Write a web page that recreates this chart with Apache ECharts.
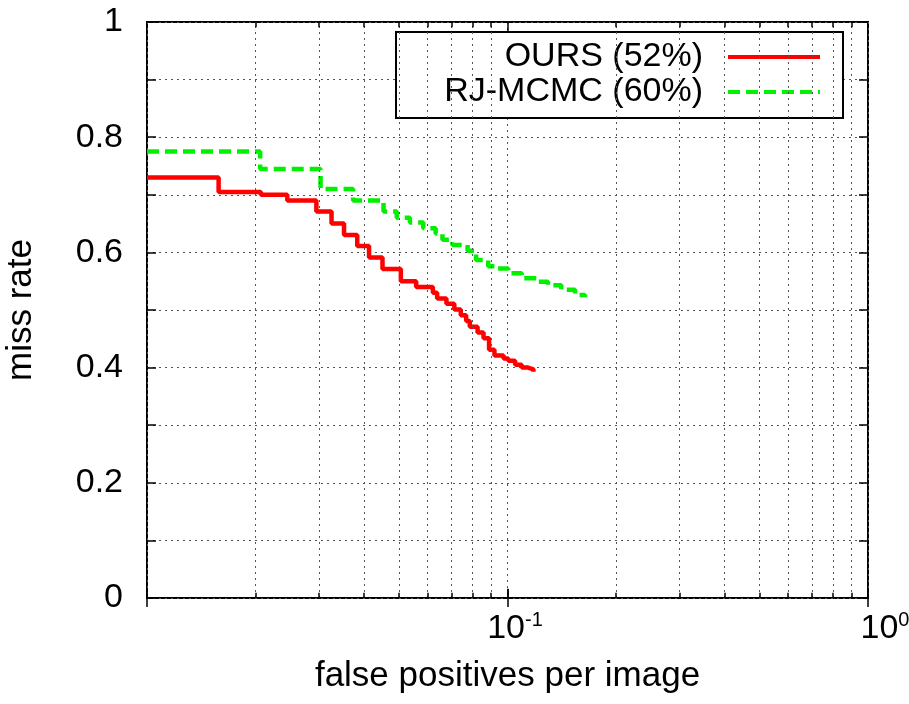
<!DOCTYPE html>
<html>
<head>
<meta charset="utf-8">
<script src="https://cdn.jsdelivr.net/npm/echarts@6/dist/echarts.min.js"></script>
<style>
html,body{margin:0;padding:0;background:#fff;}
#chart{width:909px;height:704px;}
</style>
</head>
<body>
<div id="chart"></div>
<script>
// ---- data (false positives per image, miss rate) ----
const seriesNames = ['OURS (52%)', 'RJ-MCMC (60%)'];
const oursFppi = [0.01, 0.0158, 0.0207, 0.0245, 0.0295, 0.0325, 0.0352, 0.0383, 0.0413, 0.045, 0.0506, 0.0558, 0.0621, 0.0638, 0.0677, 0.0712, 0.0742, 0.0768, 0.0786, 0.0826, 0.0858, 0.0889, 0.0920, 0.0975, 0.1005, 0.105, 0.1095, 0.114, 0.118];
const oursMiss = [0.730, 0.705, 0.700, 0.690, 0.671, 0.650, 0.630, 0.611, 0.591, 0.571, 0.550, 0.540, 0.530, 0.520, 0.511, 0.501, 0.491, 0.481, 0.471, 0.461, 0.451, 0.431, 0.421, 0.416, 0.412, 0.405, 0.400, 0.397, 0.393];
const rjFppi = [0.01, 0.0206, 0.0303, 0.0373, 0.0453, 0.0493, 0.0536, 0.0584, 0.0632, 0.0660, 0.0703, 0.0775, 0.0818, 0.0884, 0.0930, 0.1005, 0.1095, 0.121, 0.1295, 0.141, 0.154, 0.164];
const rjMiss = [0.775, 0.745, 0.710, 0.690, 0.671, 0.660, 0.652, 0.642, 0.633, 0.622, 0.613, 0.603, 0.587, 0.576, 0.572, 0.564, 0.555, 0.549, 0.543, 0.535, 0.526, 0.522];
// axis ticks
const xMinorTicks = [0.02, 0.03, 0.04, 0.05, 0.06, 0.07, 0.08, 0.09, 0.2, 0.3, 0.4, 0.5, 0.6, 0.7, 0.8, 0.9];
const xMajorTicks = [0.1];

const FONT = '"Liberation Sans", Arial, Helvetica, sans-serif';
const zip = (a, b) => a.map((v, i) => [v, b[i]]);

const gridDot = {color: '#555', width: 1, type: [2, 4]};

const minorGridLines = xMinorTicks.map(v => ({xAxis: v}));
const tickSegs = [];
xMinorTicks.forEach(v => {
  tickSegs.push([{coord: [v, 0]}, {coord: [v, 0.009]}]);
  tickSegs.push([{coord: [v, 1]}, {coord: [v, 0.991]}]);
});
xMajorTicks.forEach(v => {
  tickSegs.push([{coord: [v, 0]}, {coord: [v, 0.016]}]);
  tickSegs.push([{coord: [v, 1]}, {coord: [v, 0.984]}]);
});

const chart = echarts.init(document.getElementById('chart'), null, {renderer: 'canvas'});
const xLabelRich = {
  b: {fontSize: 34, fontFamily: FONT, color: '#000', verticalAlign: 'bottom', lineHeight: 36},
  s: {fontSize: 20, fontFamily: FONT, color: '#000', verticalAlign: 'top', lineHeight: 36, padding: [0, 0, 14, 0]},
  p1: {width: 15, lineHeight: 36},
  p2: {width: 34, lineHeight: 36}
};
chart.setOption({
  animation: false,
  backgroundColor: '#fff',
  textStyle: {fontFamily: FONT},
  grid: {left: 147, right: 41, top: 22, bottom: 106, show: true, borderColor: '#000', borderWidth: 2,
    backgroundColor: 'transparent', containLabel: false, outerBoundsMode: 'none'},
  legend: {
    data: seriesNames,
    orient: 'vertical',
    right: 66,
    top: 32,
    align: 'right',
    itemWidth: 92,
    itemHeight: 20,
    itemGap: 1,
    padding: [8, 21, 9, 10],
    backgroundColor: '#fff',
    borderColor: '#000',
    borderWidth: 2,
    borderRadius: 0,
    selectedMode: false,
    itemStyle: {opacity: 0},
    lineStyle: {width: 4},
    textStyle: {fontSize: 34, fontFamily: FONT, color: '#000', width: 297, align: 'right', lineHeight: 34, padding: [0, 20, 0, 0]}
  },
  xAxis: [{
    type: 'log', logBase: 10, min: 0.01, max: 1, position: 'bottom',
    name: 'false positives per image', nameLocation: 'middle', nameGap: 61,
    nameTextStyle: {fontSize: 35, fontFamily: FONT, color: '#000'},
    axisLine: {show: false},
    axisTick: {show: true, inside: true, length: 9, lineStyle: {color: '#000', width: 1.5}},
    axisLabel: {
      margin: 12, color: '#000',
      formatter: function (v) {
        if (Math.abs(v - 0.1) < 1e-9) return '{p1|}{b|10}{s|-1}';
        if (Math.abs(v - 1) < 1e-9) return '{p2|}{b|10}{s|0}';
        return '';
      },
      rich: xLabelRich
    },
    splitLine: {show: true, lineStyle: gridDot}
  }, {
    type: 'log', logBase: 10, min: 0.01, max: 1, position: 'top',
    axisLine: {show: false},
    axisTick: {show: true, inside: true, length: 9, lineStyle: {color: '#000', width: 1.5}},
    axisLabel: {show: false},
    splitLine: {show: false}
  }],
  yAxis: [{
    type: 'value', min: 0, max: 1, interval: 0.2, position: 'left',
    name: 'miss rate', nameLocation: 'middle', nameGap: 108, nameRotate: 90,
    nameTextStyle: {fontSize: 35, fontFamily: FONT, color: '#000'},
    axisLine: {show: false},
    axisTick: {show: true, inside: true, length: 9, lineStyle: {color: '#000', width: 1.5}},
    minorTick: {show: true, splitNumber: 2, length: 9, lineStyle: {color: '#000', width: 1.5}},
    axisLabel: {margin: 24, fontSize: 34, fontFamily: FONT, color: '#000'},
    splitLine: {show: true, lineStyle: gridDot},
    minorSplitLine: {show: true, lineStyle: gridDot}
  }, {
    type: 'value', min: 0, max: 1, interval: 0.2, position: 'right',
    axisLine: {show: false},
    axisTick: {show: true, inside: true, length: 9, lineStyle: {color: '#000', width: 1.5}},
    minorTick: {show: true, splitNumber: 2, length: 9, lineStyle: {color: '#000', width: 1.5}},
    axisLabel: {show: false},
    splitLine: {show: false}
  }],
  series: [{
    name: '__grid', type: 'line', data: [], z: 1, silent: true,
    markLine: {silent: true, symbol: 'none', label: {show: false}, animation: false,
      lineStyle: gridDot, emphasis: {disabled: true}, data: minorGridLines}
  }, {
    name: '__ticks', type: 'line', data: [], z: 1, silent: true,
    markLine: {silent: true, symbol: 'none', label: {show: false}, animation: false,
      lineStyle: {color: '#000', width: 1.5, type: 'solid'}, emphasis: {disabled: true}, data: tickSegs}
  }, {
    name: seriesNames[0], type: 'line', step: 'end', symbol: 'none', z: 3,
    data: zip(oursFppi, oursMiss),
    lineStyle: {color: '#ff0000', width: 4.5},
    itemStyle: {color: '#ff0000'}
  }, {
    name: seriesNames[1], type: 'line', step: 'end', symbol: 'none', z: 3,
    data: zip(rjFppi, rjMiss),
    lineStyle: {color: '#00f000', width: 4.5, type: [12, 6]},
    itemStyle: {color: '#00f000'}
  }]
});
</script>
</body>
</html>
